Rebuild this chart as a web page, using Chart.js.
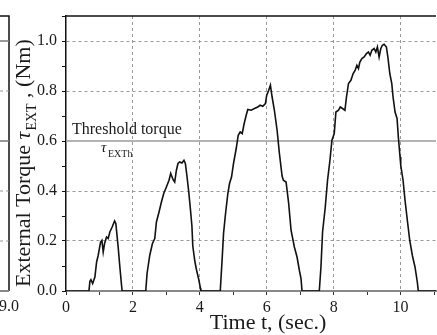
<!DOCTYPE html>
<html>
<head>
<meta charset="utf-8">
<script src="https://cdn.jsdelivr.net/npm/chart.js@4.4.0/dist/chart.umd.min.js"></script>
<style>
    html, body { margin: 0; padding: 0; background: #fff; }
    #wrap { width: 437px; height: 335px; }
</style>
</head>
<body>
<div id="wrap"><canvas id="chartTorque" width="437" height="335"></canvas></div>
<script>
// Dados (tempo em s, torque em Nm)
const timeSec = [
    0, 0.686, 0.715, 0.745, 0.796, 0.864, 0.915, 0.963, 1.034, 1.073, 1.112, 1.153, 1.213, 1.261, 1.311, 1.38, 1.452, 1.49, 1.559, 1.61, 1.66, 1.678,
    2.384, 2.423, 2.504, 2.584, 2.653, 2.703, 2.781, 2.852, 2.921, 3.001, 3.079, 3.13, 3.198, 3.249, 3.3, 3.347, 3.398, 3.466, 3.526, 3.568, 3.615, 3.666, 3.717, 3.764, 3.79, 3.85, 3.9, 3.97, 4.02, 4.033,
    4.611, 4.671, 4.709, 4.769, 4.838, 4.888, 4.948, 5.007, 5.088, 5.148, 5.207, 5.267, 5.326, 5.386, 5.434, 5.535, 5.633, 5.732, 5.803, 5.881, 5.961, 6.0, 6.06, 6.11, 6.161, 6.229, 6.31, 6.379, 6.459, 6.498, 6.578, 6.656, 6.727, 6.826, 6.906, 6.975, 7.025, 7.055,
    7.571, 7.621, 7.669, 7.75, 7.818, 7.89, 7.949, 8.018, 8.068, 8.146, 8.197, 8.265, 8.337, 8.384, 8.444, 8.516, 8.584, 8.644, 8.694, 8.742, 8.784, 8.844, 8.912, 8.981, 9.04, 9.091, 9.141, 9.21, 9.261, 9.308, 9.359, 9.41, 9.457, 9.508, 9.577, 9.627, 9.678, 9.738, 9.776, 9.836, 9.896, 9.934, 9.985, 10.006, 10.075, 10.134, 10.203, 10.274, 10.352, 10.432, 10.501, 10.531,
    11.06
];
const torqueNm = [
    0, 0, 0.039, 0.045, 0.03, 0.056, 0.116, 0.143, 0.196, 0.203, 0.156, 0.19, 0.216, 0.21, 0.236, 0.256, 0.28, 0.27, 0.176, 0.096, 0.023, 0,
    0, 0.07, 0.143, 0.19, 0.21, 0.276, 0.316, 0.356, 0.39, 0.416, 0.443, 0.47, 0.446, 0.436, 0.483, 0.51, 0.516, 0.512, 0.523, 0.51, 0.46, 0.40, 0.33, 0.26, 0.18, 0.12, 0.085, 0.045, 0.01, 0,
    0, 0.136, 0.23, 0.31, 0.39, 0.43, 0.456, 0.51, 0.57, 0.623, 0.636, 0.63, 0.67, 0.703, 0.726, 0.723, 0.73, 0.736, 0.743, 0.739, 0.75, 0.783, 0.803, 0.823, 0.776, 0.723, 0.643, 0.55, 0.46, 0.443, 0.436, 0.35, 0.243, 0.176, 0.136, 0.083, 0.05, 0,
    0, 0.096, 0.236, 0.336, 0.443, 0.523, 0.603, 0.63, 0.716, 0.723, 0.736, 0.73, 0.723, 0.776, 0.83, 0.843, 0.87, 0.883, 0.903, 0.89, 0.916, 0.93, 0.936, 0.95, 0.956, 0.943, 0.963, 0.97, 0.956, 0.976, 0.936, 0.97, 0.983, 0.987, 0.976, 0.93, 0.87, 0.83, 0.776, 0.716, 0.69, 0.616, 0.536, 0.503, 0.443, 0.363, 0.283, 0.203, 0.143, 0.096, 0.036, 0,
    0
];
const xTickLabels = ['0', '2', '4', '6', '8', '10'];
const yTickLabels = ['0.0', '0.2', '0.4', '0.6', '0.8', '1.0'];
const thresholdTorque = 0.6;
const thresholdText = 'Threshold torque';
const xTitle = 'Time t, (sec.)';

const serif = '"Liberation Serif", "DejaVu Serif", serif';
const inkColor = '#1a1a1a';

// Desenhos extras: limiar, borda superior, títulos com subscrito, painel vizinho
const extrasPlugin = {
    id: 'extras',
    beforeDatasetsDraw(chart) {
        const { ctx, chartArea, scales } = chart;
        const yTh = scales.y.getPixelForValue(thresholdTorque);
        ctx.save();
        ctx.strokeStyle = '#9a9a9a';
        ctx.lineWidth = 1.5;
        ctx.beginPath();
        ctx.moveTo(chartArea.left, yTh);
        ctx.lineTo(chartArea.right, yTh);
        ctx.stroke();

        // rótulo do limiar
        ctx.fillStyle = inkColor;
        ctx.textAlign = 'left';
        ctx.textBaseline = 'alphabetic';
        ctx.font = '16px ' + serif;
        ctx.fillText(thresholdText, chartArea.left + 6, yTh - 7);
        ctx.font = 'italic 15px ' + serif;
        ctx.fillText('τ', chartArea.left + 35, yTh + 11);
        ctx.font = '10px ' + serif;
        ctx.fillText('EXTh', chartArea.left + 42, yTh + 16);
        ctx.restore();
    },
    afterDraw(chart) {
        const { ctx, chartArea, scales } = chart;
        ctx.save();
        // borda superior
        ctx.strokeStyle = '#111';
        ctx.lineWidth = 1.5;
        ctx.beginPath();
        ctx.moveTo(chartArea.left, chartArea.top);
        ctx.lineTo(chartArea.right, chartArea.top);
        ctx.stroke();

        // pedaço do painel vizinho à esquerda
        const edgeX = 9;
        ctx.beginPath();
        ctx.moveTo(0, chartArea.top);
        ctx.lineTo(edgeX, chartArea.top);
        ctx.lineTo(edgeX, chartArea.bottom);
        ctx.stroke();
        ctx.strokeStyle = '#888';
        ctx.lineWidth = 2;
        ctx.beginPath();
        ctx.moveTo(0, chartArea.bottom);
        ctx.lineTo(edgeX, chartArea.bottom);
        ctx.stroke();
        [0.2, 0.4, 0.8].forEach(v => {
            const y = scales.y.getPixelForValue(v);
            ctx.strokeStyle = '#999';
            ctx.lineWidth = 1;
            ctx.setLineDash([3, 3]);
            ctx.beginPath();
            ctx.moveTo(0, y);
            ctx.lineTo(edgeX, y);
            ctx.stroke();
        });
        ctx.setLineDash([]);
        [0.6, 1.0].forEach(v => {
            const y = scales.y.getPixelForValue(v);
            ctx.strokeStyle = '#777';
            ctx.lineWidth = 1.5;
            ctx.beginPath();
            ctx.moveTo(0, y);
            ctx.lineTo(edgeX, y);
            ctx.stroke();
        });
        ctx.fillStyle = inkColor;
        ctx.font = '16px ' + serif;
        ctx.textAlign = 'center';
        ctx.textBaseline = 'middle';
        ctx.fillText('9.0', edgeX, chartArea.bottom + 16);

        // título do eixo x
        ctx.font = '22px ' + serif;
        ctx.textAlign = 'center';
        ctx.textBaseline = 'alphabetic';
        ctx.fillText(xTitle, 268, 329);

        // título do eixo y com subscrito
        ctx.translate(30, 287);
        ctx.rotate(-Math.PI / 2);
        ctx.textAlign = 'left';
        let x = 0;
        ctx.font = '22px ' + serif;
        ctx.fillText('External Torque ', x, 0);
        x += ctx.measureText('External Torque ').width;
        ctx.font = 'italic 22px ' + serif;
        ctx.fillText('τ', x, 0);
        x += ctx.measureText('τ').width + 1;
        ctx.font = '14px ' + serif;
        ctx.fillText('EXT', x, 6);
        x += ctx.measureText('EXT').width;
        ctx.font = '22px ' + serif;
        ctx.fillText(' , (Nm)', x, 0);
        ctx.restore();
    }
};

const points = timeSec.map((t, i) => ({ x: t, y: torqueNm[i] }));
const ctx = document.getElementById('chartTorque').getContext('2d');

new Chart(ctx, {
    type: 'line',
    data: {
        datasets: [{
            data: points,
            borderColor: '#111',
            borderWidth: 1.6,
            pointRadius: 0,
            tension: 0,
            fill: false
        }]
    },
    options: {
        responsive: false,
        animation: false,
        devicePixelRatio: 1,
        layout: { padding: { top: 16, right: 0, bottom: 0, left: 0 } },
        plugins: {
            legend: { display: false },
            tooltip: { enabled: false }
        },
        scales: {
            x: {
                type: 'linear',
                min: 0,
                max: 11.06,
                afterFit: (scale) => { scale.height = 44; },
                border: { display: true, color: '#888', width: 2, dash: [3, 3] },
                grid: {
                    color: (c) => (c.tick && c.tick.value > 0 && c.tick.value % 2 === 0) ? '#999' : 'rgba(0,0,0,0)',
                    lineWidth: 1,
                    tickColor: '#333',
                    tickWidth: 1,
                    tickLength: 4,
                    tickBorderDash: []
                },
                ticks: {
                    stepSize: 1,
                    includeBounds: false,
                    autoSkip: false,
                    maxRotation: 0,
                    padding: 3,
                    color: inkColor,
                    font: { family: serif, size: 16 },
                    callback: (value) => value % 2 === 0 ? (xTickLabels[value / 2] || '') : ''
                }
            },
            y: {
                type: 'linear',
                min: 0,
                max: 1.1,
                afterFit: (scale) => { scale.width = 66; },
                border: { display: true, color: '#111', width: 1.5, dash: [3, 3] },
                grid: {
                    color: (c) => {
                        const k = c.tick ? Math.round(c.tick.value * 10) : 1;
                        return (k > 0 && k % 2 === 0 && k !== 6) ? '#999' : 'rgba(0,0,0,0)';
                    },
                    lineWidth: 1,
                    tickColor: '#111',
                    tickWidth: 1,
                    tickLength: 4,
                    tickBorderDash: []
                },
                ticks: {
                    stepSize: 0.1,
                    includeBounds: false,
                    autoSkip: false,
                    padding: 5,
                    color: inkColor,
                    font: { family: serif, size: 16 },
                    callback: (value) => {
                        const k = Math.round(value * 10);
                        return k % 2 === 0 ? (yTickLabels[k / 2] || '') : '';
                    }
                }
            }
        }
    },
    plugins: [extrasPlugin]
});
</script>
</body>
</html>
